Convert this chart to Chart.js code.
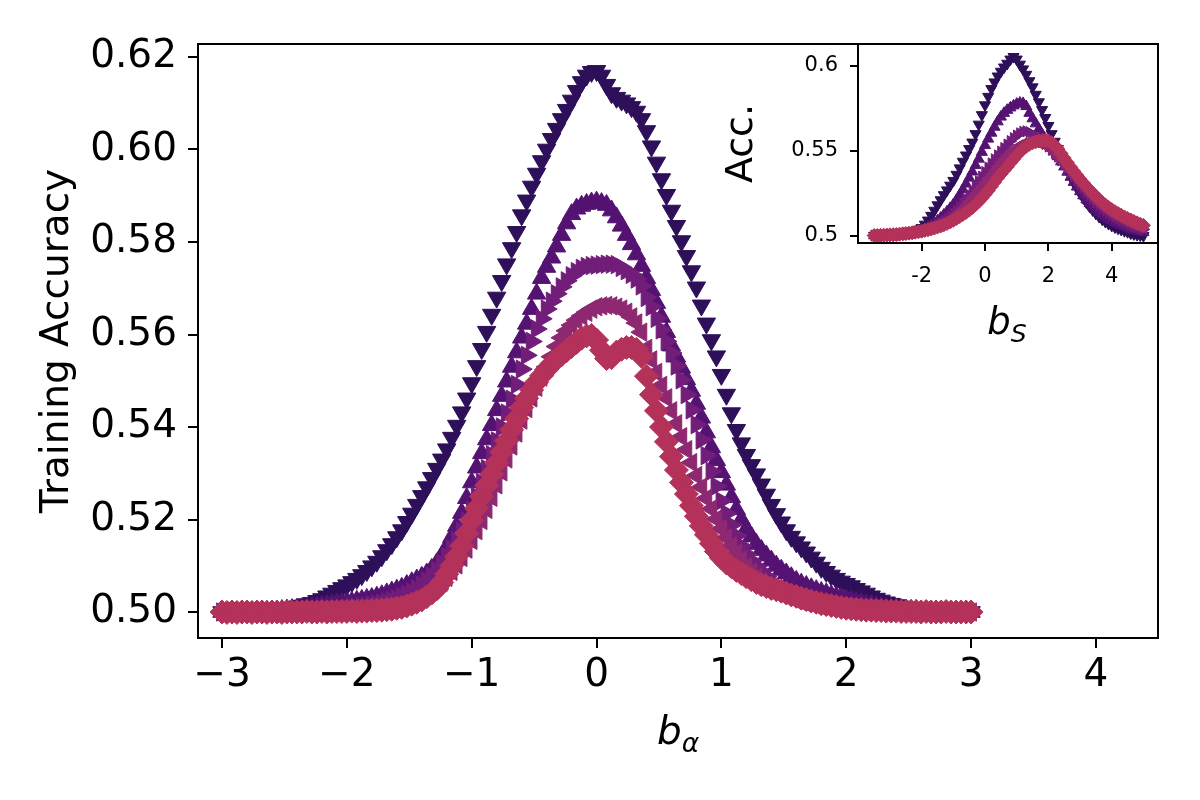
<!DOCTYPE html>
<html>
<head>
<meta charset="utf-8">
<script src="https://cdn.jsdelivr.net/npm/chart.js@4.4.1/dist/chart.umd.min.js"></script>
<style>
  body { margin: 0; background: #fff; }
  #wrap { position: relative; width: 1200px; height: 800px; font-family: "DejaVu Sans", sans-serif; }
  #wrap canvas { position: absolute; left: 0; top: 0; }
  .xlab { position: absolute; color: #000; font-style: italic; white-space: nowrap; line-height: 1; transform: translateX(-50%); }
  .xlab sub { font-size: 68%; vertical-align: -0.3em; line-height: 0; }
</style>
</head>
<body>
<div id="wrap">
  <canvas id="mainChart" width="1200" height="800"></canvas>
  <canvas id="insetChart" width="1200" height="800"></canvas>
  <div class="xlab" style="left:678px; top:711px; font-size:39px;">b<sub>α</sub></div>
  <div class="xlab" style="left:1007px; top:303px; font-size:37px;">b<sub>S</sub></div>
</div>
<script>
// --- DATA ---
// main panel: training accuracy vs b_alpha, sampled every 0.04 from -3 to 3
const mainB = grid(-3, 0.04, 151);

const accDown = [
  .5000,.5000,.5001,.5000,.5001,.5002,.5002,.5003,.5003,.5004,
  .5005,.5006,.5007,.5009,.5010,.5012,.5014,.5017,.5020,.5024,
  .5028,.5034,.5040,.5046,.5052,
  .5058,.5065,.5072,.5080,.5089,.5099,.5109,.5121,.5134,.5147,
  .5162,.5177,.5195,.5213,.5232,.5251,.5270,.5290,.5310,.5330,
  .5352,.5377,.5403,.5432,.5462,
  .5495,.5532,.5569,.5606,.5643,.5680,.5716,.5752,.5787,.5822,
  .5858,.5890,.5920,.5948,.5975,.6000,.6023,.6045,.6066,.6086,
  .6106,.6127,.6146,.6160,.6168,
  .6170,.6160,.6140,.6122,.6112,.6106,.6100,.6092,.6082,.6066,
  .6040,.6007,.5972,.5936,.5902,.5868,.5835,.5802,.5770,.5737,
  .5702,.5663,.5624,.5588,.5553,
  .5513,.5470,.5430,.5394,.5365,.5340,.5318,.5298,.5276,.5254,
  .5232,.5212,.5194,.5177,.5163,.5151,.5140,.5129,.5118,.5107,
  .5096,.5087,.5079,.5072,.5066,.5061,.5056,.5050,.5045,.5040,
  .5034,.5029,.5025,.5021,.5018,.5015,.5012,.5010,.5008,.5007,
  .5006,.5005,.5004,.5003,.5003,.5002,.5002,.5001,.5001,.5000,.5000
];
const accUp = [
  .5000,.5000,.5000,.5001,.5000,.5001,.5001,.5002,.5002,.5002,
  .5003,.5003,.5004,.5005,.5006,.5007,.5008,.5009,.5010,.5012,
  .5013,.5015,.5016,.5018,.5019,
  .5021,.5022,.5024,.5026,.5028,.5030,.5033,.5036,.5040,.5044,
  .5048,.5052,.5058,.5064,.5070,.5076,.5083,.5093,.5105,.5121,
  .5140,.5162,.5186,.5214,.5246,
  .5280,.5312,.5343,.5373,.5404,.5436,.5467,.5498,.5530,.5561,
  .5593,.5623,.5655,.5688,.5722,.5746,.5766,.5790,.5815,.5840,
  .5860,.5872,.5878,.5882,.5885,
  .5887,.5884,.5880,.5868,.5853,.5835,.5815,.5795,.5773,.5748,
  .5722,.5696,.5668,.5638,.5605,.5576,.5552,.5528,.5503,.5478,
  .5450,.5420,.5388,.5356,.5328,
  .5302,.5275,.5248,.5222,.5200,.5180,.5163,.5147,.5134,.5122,
  .5111,.5100,.5091,.5083,.5075,.5067,.5061,.5056,.5051,.5047,
  .5043,.5040,.5036,.5033,.5030,.5027,.5024,.5022,.5019,.5017,
  .5015,.5013,.5011,.5010,.5008,.5007,.5006,.5005,.5004,.5004,
  .5003,.5003,.5002,.5002,.5001,.5001,.5001,.5001,.5000,.5000,.5000
];
const accRight = [
  .5000,.5000,.5000,.5000,.5001,.5000,.5001,.5001,.5001,.5001,
  .5002,.5002,.5002,.5003,.5003,.5003,.5004,.5004,.5005,.5005,
  .5006,.5006,.5007,.5007,.5008,
  .5009,.5010,.5011,.5012,.5013,.5015,.5017,.5019,.5022,.5025,
  .5029,.5033,.5038,.5044,.5050,.5058,.5067,.5078,.5091,.5105,
  .5120,.5137,.5155,.5175,.5197,
  .5220,.5250,.5280,.5310,.5340,.5370,.5400,.5430,.5460,.5492,
  .5525,.5555,.5585,.5612,.5634,.5655,.5672,.5688,.5703,.5716,
  .5727,.5736,.5743,.5747,.5749,
  .5750,.5751,.5752,.5752,.5751,.5745,.5738,.5730,.5720,.5705,
  .5680,.5660,.5635,.5610,.5585,.5560,.5532,.5502,.5470,.5437,
  .5405,.5372,.5338,.5304,.5272,
  .5240,.5213,.5188,.5165,.5143,.5125,.5111,.5099,.5088,.5077,
  .5065,.5058,.5052,.5046,.5040,.5035,.5031,.5028,.5025,.5022,
  .5020,.5018,.5016,.5014,.5012,.5010,.5009,.5008,.5007,.5006,
  .5005,.5004,.5004,.5003,.5003,.5003,.5002,.5002,.5002,.5001,
  .5001,.5001,.5001,.5001,.5000,.5000,.5001,.5000,.5000,.5000,.5000
];
const accLeft = [
  .5000,.5000,.5001,.5000,.5000,.5001,.5000,.5001,.5001,.5001,
  .5001,.5001,.5002,.5002,.5002,.5002,.5003,.5003,.5003,.5004,
  .5004,.5004,.5005,.5005,.5006,
  .5006,.5007,.5007,.5008,.5009,.5010,.5011,.5012,.5013,.5014,
  .5015,.5018,.5021,.5025,.5029,.5034,.5040,.5046,.5055,.5064,
  .5075,.5088,.5102,.5118,.5136,
  .5155,.5176,.5198,.5222,.5248,.5275,.5303,.5331,.5359,.5387,
  .5415,.5440,.5463,.5486,.5508,.5530,.5552,.5574,.5593,.5608,
  .5620,.5631,.5640,.5648,.5655,
  .5660,.5662,.5663,.5662,.5659,.5655,.5648,.5638,.5625,.5605,
  .5570,.5545,.5518,.5490,.5463,.5435,.5407,.5379,.5351,.5323,
  .5295,.5270,.5246,.5223,.5201,
  .5180,.5161,.5143,.5127,.5112,.5098,.5086,.5075,.5066,.5058,
  .5050,.5044,.5039,.5034,.5030,.5025,.5022,.5019,.5017,.5014,
  .5012,.5011,.5009,.5008,.5007,.5006,.5005,.5005,.5004,.5004,
  .5003,.5003,.5003,.5002,.5002,.5002,.5002,.5001,.5001,.5001,
  .5001,.5001,.5000,.5001,.5000,.5000,.5000,.5000,.5000,.5000,.5000
];
const accDiamond = [
  .5000,.4999,.5000,.4999,.5000,.5000,.4999,.5000,.5000,.4999,
  .5000,.5000,.4999,.5000,.5000,.5000,.5000,.5001,.5000,.5000,
  .5001,.5000,.5001,.5001,.5001,
  .5001,.5002,.5001,.5002,.5002,.5003,.5003,.5004,.5005,.5006,
  .5008,.5010,.5013,.5017,.5021,.5026,.5033,.5041,.5050,.5064,
  .5082,.5100,.5120,.5143,.5170,
  .5198,.5224,.5250,.5274,.5298,.5322,.5346,.5370,.5394,.5418,
  .5442,.5462,.5480,.5497,.5511,.5524,.5536,.5547,.5556,.5565,
  .5574,.5583,.5592,.5597,.5598,
  .5588,.5566,.5548,.5550,.5562,.5568,.5572,.5572,.5568,.5553,
  .5510,.5470,.5435,.5400,.5368,.5336,.5307,.5280,.5255,.5230,
  .5207,.5186,.5167,.5148,.5131,
  .5117,.5106,.5098,.5090,.5083,.5076,.5070,.5064,.5059,.5055,
  .5051,.5048,.5045,.5041,.5037,.5034,.5030,.5027,.5024,.5021,
  .5018,.5016,.5014,.5012,.5010,.5008,.5007,.5006,.5005,.5004,
  .5004,.5003,.5003,.5002,.5002,.5002,.5001,.5001,.5001,.5001,
  .5000,.5001,.5000,.5000,.5000,.5001,.5000,.5000,.5000,.5000,.5000
];

// inset: accuracy vs b_S, sampled every 0.1 from -3.5 to 5
const insetB = grid(-3.5, 0.1, 86);

const insDown = [
  .5000,.5000,.5000,.5001,.5001,.5002,.5003,.5004,.5006,.5008,
  .5011,.5015,.5020,.5026,.5035,.5046,.5066,.5090,.5118,.5148,
  .5180,.5210,.5240,.5268,.5296,.5324,.5360,.5398,.5437,.5474,
  .5512,.5550,.5600,.5656,.5712,.5770,.5820,.5866,.5905,.5940,
  .5968,.5993,.6015,.6040,.6055,.6040,.6010,.5982,.5950,.5912,
  .5876,.5832,.5788,.5742,.5695,.5648,.5600,.5555,.5512,.5470,
  .5428,.5388,.5350,.5314,.5280,.5250,.5222,.5196,.5172,.5150,
  .5130,.5112,.5096,.5082,.5070,.5059,.5050,.5042,.5035,.5028,
  .5022,.5014,.5009,.5005,.5002,.4999
];
const insUp = [
  .5000,.5000,.5000,.5001,.5001,.5002,.5002,.5003,.5004,.5006,
  .5008,.5010,.5013,.5017,.5022,.5030,.5040,.5050,.5061,.5073,
  .5088,.5104,.5122,.5141,.5161,.5183,.5210,.5240,.5272,.5305,
  .5340,.5376,.5414,.5452,.5492,.5532,.5570,.5605,.5640,.5672,
  .5700,.5722,.5740,.5754,.5766,.5776,.5782,.5780,.5762,.5722,
  .5690,.5660,.5628,.5598,.5570,.5545,.5520,.5494,.5466,.5436,
  .5406,.5375,.5345,.5315,.5287,.5260,.5236,.5212,.5190,.5170,
  .5152,.5136,.5122,.5109,.5097,.5087,.5077,.5068,.5060,.5052,
  .5045,.5039,.5033,.5028,.5023,.5019
];
const insRight = [
  .5000,.5000,.5001,.5001,.5002,.5003,.5004,.5005,.5006,.5008,
  .5010,.5012,.5015,.5019,.5023,.5028,.5034,.5040,.5047,.5055,
  .5065,.5076,.5088,.5101,.5115,.5130,.5149,.5170,.5192,.5216,
  .5240,.5266,.5293,.5320,.5348,.5375,.5401,.5426,.5450,.5473,
  .5495,.5516,.5537,.5557,.5575,.5590,.5603,.5612,.5615,.5610,
  .5598,.5584,.5569,.5554,.5540,.5525,.5506,.5486,.5465,.5443,
  .5420,.5396,.5372,.5348,.5324,.5300,.5278,.5256,.5235,.5215,
  .5195,.5178,.5162,.5147,.5133,.5120,.5108,.5097,.5087,.5078,
  .5070,.5062,.5055,.5048,.5042,.5036
];
const insLeft = [
  .5000,.5000,.5000,.5001,.5002,.5002,.5003,.5004,.5006,.5007,
  .5009,.5011,.5014,.5017,.5021,.5026,.5031,.5036,.5042,.5049,
  .5057,.5066,.5076,.5086,.5097,.5110,.5125,.5142,.5160,.5180,
  .5200,.5222,.5244,.5267,.5290,.5313,.5337,.5360,.5384,.5407,
  .5430,.5451,.5470,.5489,.5506,.5520,.5532,.5541,.5548,.5551,
  .5552,.5550,.5546,.5540,.5532,.5520,.5504,.5486,.5466,.5445,
  .5424,.5402,.5380,.5358,.5336,.5315,.5293,.5271,.5250,.5230,
  .5210,.5192,.5175,.5158,.5143,.5130,.5117,.5106,.5096,.5087,
  .5078,.5070,.5063,.5056,.5050,.5045
];
const insDiamond = [
  .5000,.5000,.5001,.5002,.5003,.5004,.5005,.5006,.5008,.5010,
  .5012,.5014,.5017,.5020,.5023,.5026,.5030,.5034,.5039,.5044,
  .5050,.5056,.5063,.5071,.5080,.5090,.5101,.5112,.5124,.5136,
  .5150,.5165,.5182,.5200,.5220,.5242,.5265,.5290,.5315,.5340,
  .5362,.5384,.5405,.5428,.5450,.5472,.5492,.5510,.5526,.5538,
  .5547,.5553,.5558,.5561,.5562,.5558,.5548,.5532,.5510,.5484,
  .5457,.5430,.5404,.5380,.5356,.5333,.5311,.5290,.5270,.5250,
  .5231,.5213,.5196,.5180,.5166,.5153,.5141,.5130,.5120,.5110,
  .5101,.5092,.5083,.5075,.5067,.5060
];

// axis ticks
const mainXTicks = [-3, -2, -1, 0, 1, 2, 3, 4];
const mainYTicks = [0.50, 0.52, 0.54, 0.56, 0.58, 0.60, 0.62];
const insetXTicks = [-2, 0, 2, 4];
const insetYTicks = [0.5, 0.55, 0.6];

const colors = ['#2e0f59', '#541272', '#711d79', '#8e2870', '#b4325a'];

// --- HELPERS ---
function grid(start, step, n) {
  return Array.from({ length: n }, (_, i) => Math.round((start + i * step) * 100) / 100);
}

function pts(xs, ys) {
  return xs.map((x, i) => ({ x: x, y: ys[i] }));
}

function markers(xs, ys, color, style, rot, radius, order) {
  return {
    data: pts(xs, ys),
    showLine: false,
    pointStyle: style,
    pointRotation: rot,
    pointRadius: radius,
    pointHoverRadius: radius,
    pointBackgroundColor: color,
    pointBorderColor: color,
    pointBorderWidth: 1,
    order: order
  };
}

function axis(min, max, ticks, fmt, fontSize, tickLen, pad, fit) {
  return {
    type: 'linear',
    min: min,
    max: max,
    afterBuildTicks: s => { s.ticks = ticks.map(v => ({ value: v })); },
    afterFit: fit,
    grid: { drawOnChartArea: false, drawTicks: true, tickLength: tickLen, color: '#000', lineWidth: 2 },
    border: { display: true, color: '#000', width: 2 },
    ticks: { color: '#000', autoSkip: false, maxRotation: 0, padding: pad,
             font: { family: 'DejaVu Sans', size: fontSize }, callback: fmt }
  };
}

// black box round the plot area, optional white fill (for the inset)
const frame = {
  id: 'frame',
  beforeDraw(chart, args, opts) {
    if (!opts.fill) return;
    const a = chart.chartArea, ctx = chart.ctx;
    ctx.save();
    ctx.fillStyle = '#fff';
    ctx.fillRect(a.left, a.top, a.width, a.height);
    ctx.restore();
  },
  afterDraw(chart) {
    const a = chart.chartArea, ctx = chart.ctx;
    ctx.save();
    ctx.strokeStyle = '#000';
    ctx.lineWidth = 2;
    ctx.strokeRect(a.left, a.top, a.width, a.height);
    ctx.restore();
  }
};

const minusFmt = v => (v < 0 ? '\u2212' + Math.abs(v) : String(v));

// --- MAIN CHART ---
new Chart(document.getElementById('mainChart'), {
  type: 'scatter',
  data: {
    datasets: [
      markers(mainB, accDown, colors[0], 'triangle', 180, 10.6, 5),
      markers(mainB, accUp, colors[1], 'triangle', 0, 10.6, 4),
      markers(mainB, accRight, colors[2], 'triangle', 90, 10.6, 3),
      markers(mainB, accLeft, colors[3], 'triangle', 270, 10.6, 2),
      markers(mainB, accDiamond, colors[4], 'rectRot', 0, 12, 1)
    ]
  },
  options: {
    responsive: false,
    animation: false,
    devicePixelRatio: 1,
    events: [],
    layout: { padding: { left: 0, right: 42, top: 44, bottom: 0 } },
    plugins: { legend: { display: false }, tooltip: { enabled: false }, frame: { fill: false } },
    scales: {
      x: axis(-3.192, 4.497, mainXTicks, minusFmt, 39, 10, 4, s => { s.height = 162; }),
      y: Object.assign(axis(0.49438, 0.62281, mainYTicks, v => v.toFixed(2), 39, 10, 11, s => { s.width = 198; }), {
        title: { display: true, text: 'Training Accuracy', color: '#000',
                 font: { family: 'DejaVu Sans', size: 39 }, padding: { top: 34, bottom: 0 } }
      })
    }
  },
  plugins: [frame]
});

// --- INSET CHART ---
new Chart(document.getElementById('insetChart'), {
  type: 'scatter',
  data: {
    datasets: [
      markers(insetB, insDown, colors[0], 'triangle', 180, 6.4, 5),
      markers(insetB, insUp, colors[1], 'triangle', 0, 6.4, 4),
      markers(insetB, insRight, colors[2], 'triangle', 90, 6.4, 3),
      markers(insetB, insLeft, colors[3], 'triangle', 270, 6.4, 2),
      markers(insetB, insDiamond, colors[4], 'rectRot', 0, 7, 1)
    ]
  },
  options: {
    responsive: false,
    animation: false,
    devicePixelRatio: 1,
    events: [],
    layout: { padding: { left: 700, right: 42, top: 44, bottom: 497 } },
    plugins: { legend: { display: false }, tooltip: { enabled: false }, frame: { fill: true } },
    scales: {
      x: axis(-4.01, 5.46, insetXTicks, v => String(v), 21, 8, 13, s => { s.height = 60; }),
      y: Object.assign(axis(0.4956, 0.613, insetYTicks, v => String(v), 21, 8, 12, s => { s.width = 158; }), {
        title: { display: true, text: 'Acc.', color: '#000',
                 font: { family: 'DejaVu Sans', size: 38 }, padding: { top: 19, bottom: 0 } }
      })
    }
  },
  plugins: [frame]
});
</script>
</body>
</html>
